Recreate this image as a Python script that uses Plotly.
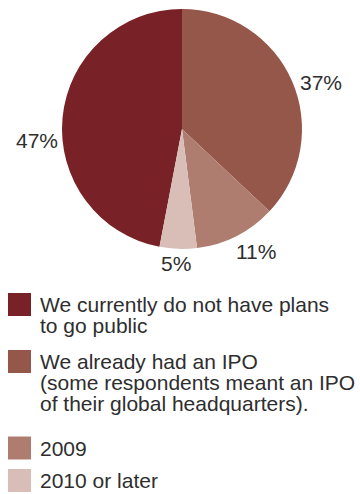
import math
import plotly.graph_objects as go

# Survey answers: when will the company go public?
categories = [
    "We currently do not have plans<br>to go public",
    "We already had an IPO<br>(some respondents meant an IPO<br>of their global headquarters).",
    "2009",
    "2010 or later",
]
shares = [47, 37, 11, 5]
colors = ["#782126", "#94574A", "#AF7D6F", "#D8BEB6"]

W, H = 360, 494
FONT = "Liberation Sans, Arial, Helvetica, sans-serif"
TEXT = "#2e2e2e"
FONT_SIZE = 21

# pie geometry in pixels
cx, cy, r = 182, 129, 120

# percentage labels: angular nudge (deg) away from each slice's mid-angle,
# and clearance between the rim and the label box
label_nudge = [-10, 5, -4, 0.7]
label_pad = 7

# legend layout in pixels: centre of each swatch row, swatch size, line pitch
row_centers = [304.5, 361.5, 448, 480.5]
swatch = 23
swatch_x = 8
text_x = 38
line_pitch = 21

total = sum(shares)
# first listed answer ends at 12 o'clock when drawn clockwise
start_rotation = 360 * (1 - shares[0] / total)

fig = go.Figure(
    go.Pie(
        labels=[c.replace("<br>", " ") for c in categories],
        values=shares,
        sort=False,
        direction="clockwise",
        rotation=start_rotation,
        marker=dict(colors=colors, line=dict(width=0)),
        textinfo="none",
        domain=dict(
            x=[(cx - r) / W, (cx + r) / W],
            y=[1 - (cy + r) / H, 1 - (cy - r) / H],
        ),
        showlegend=False,
        hoverinfo="label+percent",
    )
)

annotations = []
shapes = []

# value labels around the rim, placed at each slice's mid-angle
cum = 0
for value, nudge in zip(shares, label_nudge):
    mid = start_rotation + (cum + value / 2) / total * 360 + nudge
    cum += value
    a = math.radians(mid)
    s, c = math.sin(a), -math.cos(a)
    text = f"{value}%"
    tw = len(text) * 0.6 * FONT_SIZE * 0.95
    th = 0.72 * FONT_SIZE
    dist = r + label_pad + abs(s) * tw / 2 + abs(c) * th / 2
    px, py = cx + dist * s, cy + dist * c
    annotations.append(
        dict(
            text=text, xref="paper", yref="paper",
            x=px / W, y=1 - py / H, xanchor="center", yanchor="middle",
            showarrow=False,
            font=dict(family=FONT, size=FONT_SIZE, color=TEXT),
        )
    )

# legend: coloured swatch plus wrapped answer text
for label, color, yc in zip(categories, colors, row_centers):
    shapes.append(
        dict(
            type="rect", xref="paper", yref="paper",
            x0=swatch_x / W, x1=(swatch_x + swatch) / W,
            y0=1 - (yc + swatch / 2) / H, y1=1 - (yc - swatch / 2) / H,
            fillcolor=color, line=dict(width=0), layer="above",
        )
    )
    for i, line in enumerate(label.split("<br>")):
        annotations.append(
            dict(
                text=line, xref="paper", yref="paper",
                x=text_x / W, y=1 - (yc + i * line_pitch) / H,
                xanchor="left", yanchor="middle", showarrow=False,
                font=dict(family=FONT, size=FONT_SIZE, color=TEXT),
            )
        )

fig.update_layout(
    width=W, height=H,
    margin=dict(l=0, r=0, t=0, b=0),
    paper_bgcolor="white", plot_bgcolor="white",
    shapes=shapes, annotations=annotations,
)

fig.write_html("out.html")
